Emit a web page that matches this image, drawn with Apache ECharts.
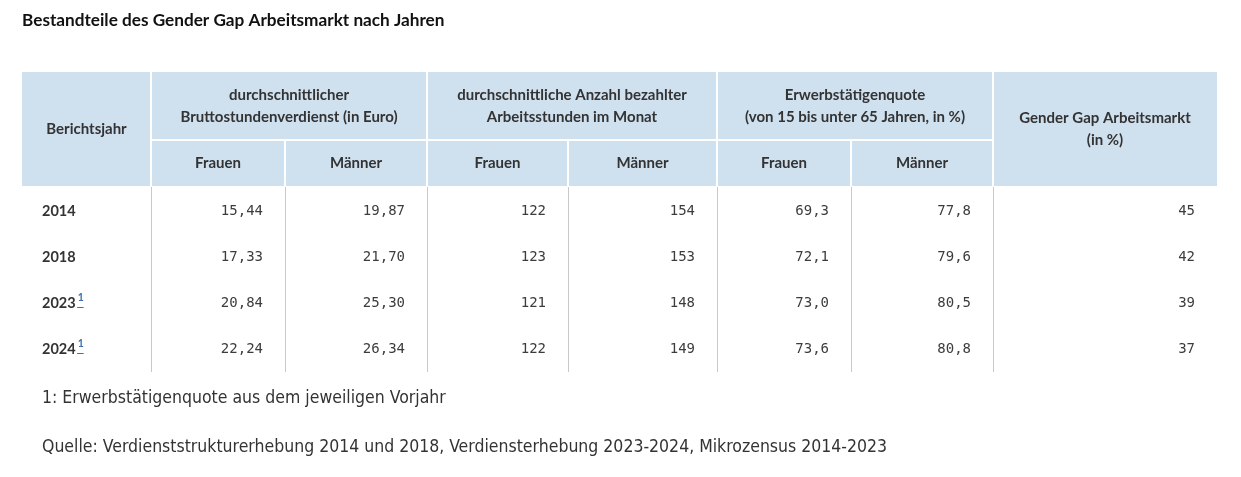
<!DOCTYPE html>
<html><head><meta charset="utf-8">
<script src="https://cdn.jsdelivr.net/npm/echarts@6/dist/echarts.min.js"></script>
<style>html,body{margin:0;padding:0;background:#fff}#c{width:1241px;height:477px}</style>
</head><body><div id="c"></div>
<script>
// ---------- data ----------
const chartTitle = 'Bestandteile des Gender Gap Arbeitsmarkt nach Jahren';
const years = ['2014', '2018', '2023', '2024'];
const yearNotes = ['', '', '1', '1'];
const verdienstFrauen = [15.44, 17.33, 20.84, 22.24];
const verdienstMaenner = [19.87, 21.70, 25.30, 26.34];
const stundenFrauen = [122, 123, 121, 122];
const stundenMaenner = [154, 153, 148, 149];
const quoteFrauen = [69.3, 72.1, 73.0, 73.6];
const quoteMaenner = [77.8, 79.6, 80.5, 80.8];
const genderGap = [45, 42, 39, 37];
const groupHeaders = ['Berichtsjahr', 'durchschnittlicher\nBruttostundenverdienst (in Euro)', 'durchschnittliche Anzahl bezahlter\nArbeitsstunden im Monat', 'Erwerbstätigenquote\n(von 15 bis unter 65 Jahren, in %)', 'Gender Gap Arbeitsmarkt\n(in %)'];
const subHeaders = ['Frauen', 'Männer'];
const footnote = '1: Erwerbstätigenquote aus dem jeweiligen Vorjahr';
const source = 'Quelle: Verdienststrukturerhebung 2014 und 2018, Verdiensterhebung 2023-2024, Mikrozensus 2014-2023';

// ---------- layout (table units) ----------
const colEdges = [0, 129, 263, 405, 546, 695, 829, 971, 1195];
const H1 = 68, H2 = 114, BODY_TOP = 116, ROW_H = 46, TABLE_H = 300;
const PAD_R = 22;

const fmt = (v, d) => v.toFixed(d).replace('.', ',');
const columns = [
  verdienstFrauen.map(v => fmt(v, 2)), verdienstMaenner.map(v => fmt(v, 2)),
  stundenFrauen.map(v => String(v)), stundenMaenner.map(v => String(v)),
  quoteFrauen.map(v => fmt(v, 1)), quoteMaenner.map(v => fmt(v, 1)),
  genderGap.map(v => String(v))
];
const bodyColEdges = [[1, 2], [2, 3], [3, 4], [4, 5], [5, 6], [6, 7], [7, 8]];

const SANS = '"Source Sans Pro", Lato, sans-serif';
const HEAD_FONT = 'bold 15px ' + SANS;
const YEAR_FONT = 'bold 14.5px ' + SANS;
const NUM_FONT = '14px "DejaVu Sans Mono", monospace';
const NOTE_FONT = '17.5px "Liberation Sans Narrow", "DejaVu Sans Condensed", sans-serif';
const TXT = '#333333';
const NUM_TXT = '#3c3c3c';
const HEAD_BG = '#cfe0ef';

const mctx = document.createElement('canvas').getContext('2d');
function textW(t, f) { mctx.font = f; return mctx.measureText(t).width; }

function headerItem(params, api) {
  const P = (x, y) => api.coord([x, y]);
  const ch = [];
  const a = P(0, 0), b = P(1195, H2);
  ch.push({ type: 'rect', shape: { x: a[0], y: a[1], width: b[0] - a[0], height: b[1] - a[1] }, style: { fill: HEAD_BG } });
  const wl = (x1, y1, x2, y2) => { const p = P(x1, y1), q = P(x2, y2); ch.push({ type: 'line', shape: { x1: p[0], y1: p[1], x2: q[0], y2: q[1] }, style: { stroke: '#ffffff', lineWidth: 2 } }); };
  [1, 3, 5, 7].forEach(i => wl(colEdges[i], 0, colEdges[i], H2));
  [2, 4, 6].forEach(i => wl(colEdges[i], H1, colEdges[i], H2));
  wl(colEdges[1], H1, colEdges[7], H1);
  for (let i = 1; i <= 7; i++) {
    const p = P(colEdges[i], H2 + 1), q = P(colEdges[i], TABLE_H);
    ch.push({ type: 'line', shape: { x1: p[0] + 0.5, y1: p[1], x2: q[0] + 0.5, y2: q[1] }, style: { stroke: '#c9c9c9', lineWidth: 1 } });
  }
  const txt = (t, x, y) => ch.push({ type: 'text', style: { text: t, x: x, y: y, font: HEAD_FONT, fill: TXT, textAlign: 'center', textVerticalAlign: 'middle', lineHeight: 22 } });
  const spans = [[0, 1, H2 / 2], [1, 3, H1 / 2], [3, 5, H1 / 2], [5, 7, H1 / 2], [7, 8, H2 / 2]];
  groupHeaders.forEach((t, i) => {
    const s = spans[i];
    const p = P((colEdges[s[0]] + colEdges[s[1]]) / 2, s[2]);
    txt(t, p[0], p[1]);
  });
  for (let c = 1; c < 7; c++) {
    const p = P((colEdges[c] + colEdges[c + 1]) / 2, (H1 + H2) / 2);
    txt(subHeaders[(c - 1) % 2], p[0], p[1]);
  }
  return { type: 'group', children: ch };
}

function rowItem(params, api) {
  const r = api.value(0);
  const yc = BODY_TOP + ROW_H * r + ROW_H / 2;
  const ch = [];
  const p0 = api.coord([20, yc]);
  ch.push({ type: 'text', style: { text: years[r], x: p0[0], y: p0[1], font: YEAR_FONT, fill: TXT, textAlign: 'left', textVerticalAlign: 'middle' } });
  if (yearNotes[r]) {
    const w = textW(years[r], YEAR_FONT);
    const sx = p0[0] + w + 2;
    ch.push({ type: 'text', style: { text: yearNotes[r], x: sx, y: p0[1] - 5, font: 'bold 10.5px ' + SANS, fill: '#3f6fae', textAlign: 'left', textVerticalAlign: 'middle' } });
    ch.push({ type: 'line', shape: { x1: sx - 0.5, y1: p0[1] + 4.5, x2: sx + 6, y2: p0[1] + 4.5 }, style: { stroke: '#3f6fae', lineWidth: 1 } });
  }
  columns.forEach((col, c) => {
    const e = bodyColEdges[c];
    const p = api.coord([colEdges[e[1]] - PAD_R, yc]);
    ch.push({ type: 'text', style: { text: col[r], x: p[0], y: p[1], font: NUM_FONT, fill: NUM_TXT, textAlign: 'right', textVerticalAlign: 'middle' } });
  });
  return { type: 'group', children: ch };
}

const chart = echarts.init(document.getElementById('c'), null, { renderer: 'canvas' });
chart.setOption({
  animation: false,
  title: { text: chartTitle, left: 22, top: 12, padding: 0, textStyle: { fontFamily: SANS, fontWeight: 'bold', fontSize: 17.2, color: '#111111' } },
  grid: { left: 22, top: 72, width: 1195, height: TABLE_H },
  xAxis: { type: 'value', min: 0, max: 1195, show: false },
  yAxis: { type: 'value', min: 0, max: TABLE_H, inverse: true, show: false },
  graphic: [
    { type: 'text', left: 42, top: 389, style: { text: footnote, font: NOTE_FONT, fill: TXT } },
    { type: 'text', left: 42, top: 438, style: { text: source, font: NOTE_FONT, fill: TXT } }
  ],
  series: [
    { type: 'custom', renderItem: headerItem, data: [[0]], silent: true, clip: false },
    { type: 'custom', renderItem: rowItem, data: years.map((y, i) => [i]), silent: true, clip: false }
  ]
});
</script></body></html>
